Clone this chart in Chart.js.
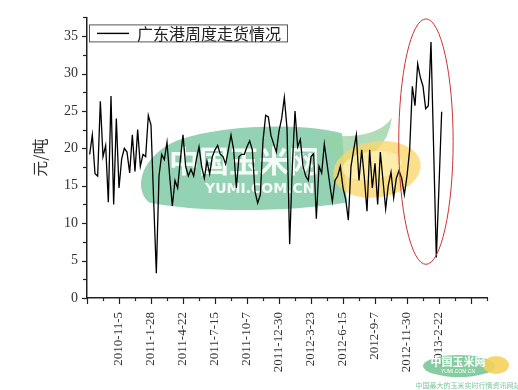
<!DOCTYPE html>
<html>
<head>
<meta charset="utf-8">
<script src="https://cdn.jsdelivr.net/npm/chart.js@4/dist/chart.umd.min.js"></script>
<style>
  html, body { margin: 0; padding: 0; background: #fff; }
  #wrap { width: 518px; height: 390px; }
</style>
</head>
<body>
<div id="wrap"><canvas id="c" width="518" height="390"></canvas></div>
<script>
// 数据：每周一个值，第1周 = 2010-8-20
const seriesName = '广东港周度走货情况';
const yTitle = '元/吨';
const values = [
  19.2, 21.8, 16.6, 16.3, 26.3, 18.9, 20.4, 12.8, 27.0, 12.5,
  24.0, 14.7, 18.6, 20.0, 19.5, 16.7, 21.8, 16.9, 22.5, 17.6,
  19.2, 18.9, 24.4, 23.1, 13.0, 3.3, 16.3, 19.2, 18.5, 20.8,
  16.3, 12.3, 15.7, 14.7, 18.5, 21.8, 17.6, 16.3, 17.2, 16.3,
  18.5, 20.2, 17.6, 16.0, 18.3, 16.6, 18.9, 19.8, 20.4, 19.2,
  18.9, 17.9, 19.8, 21.8, 19.8, 14.7, 18.9, 19.2, 19.2, 20.2,
  21.0, 19.8, 14.2, 12.7, 13.8, 21.0, 24.4, 24.2, 21.7, 20.6,
  19.5, 22.3, 24.0, 26.8, 22.7, 7.2, 17.6, 25.0, 20.2, 21.2,
  17.6, 16.3, 15.7, 18.9, 19.3, 10.6, 17.6, 16.7, 20.6, 18.0,
  15.3, 12.9, 15.7, 16.3, 17.6, 14.7, 13.2, 10.4, 17.6, 19.8,
  21.8, 15.7, 19.8, 16.1, 11.6, 19.8, 14.7, 18.0, 12.5, 19.5,
  15.7, 11.9, 15.1, 16.8, 13.4, 16.0, 17.0, 16.0, 13.8, 16.3,
  19.8, 28.3, 25.7, 31.3, 29.5, 28.3, 25.3, 25.7, 34.2, 19.8,
  5.4, 15.0, 24.9
];
// 横轴刻度标签，每12周一个（第12周起）
const tickLabels = [
  '2010-11-5', '2011-1-28', '2011-4-22', '2011-7-15', '2011-10-7', '2011-12-30',
  '2012-3-23', '2012-6-15', '2012-9-7', '2012-11-30', '2013-2-22'
];
const yTicks = [0, 5, 10, 15, 20, 25, 30, 35];

// 红色椭圆（数据坐标）
const ring = { week: 127.1, halfWeeks: 10.2, mid: 20.9, halfValue: 16.4 };

const points = values.map((v, i) => ({ x: i + 1, y: v }));

const serif = "'Liberation Serif', 'DejaVu Serif', serif";
const cjk = "'Noto Sans CJK SC', 'Noto Sans', sans-serif";

const decor = {
  id: 'decor',
  beforeDatasetsDraw(chart) {
    const ctx = chart.ctx;
    const a = chart.chartArea;
    const ox = a.left, oy = a.top;
    ctx.save();
    // 水印：绿色底块
    ctx.fillStyle = 'rgba(120, 200, 160, 0.8)';
    ctx.beginPath();
    ctx.moveTo(ox + 62, oy + 185);
    ctx.bezierCurveTo(ox + 45, oy + 170, ox + 55, oy + 138, ox + 90, oy + 123);
    ctx.bezierCurveTo(ox + 140, oy + 106, ox + 220, oy + 106, ox + 255, oy + 116);
    ctx.lineTo(ox + 260, oy + 185);
    ctx.bezierCurveTo(ox + 200, oy + 195, ox + 110, oy + 195, ox + 62, oy + 185);
    ctx.closePath();
    ctx.fill();
    // 叶子
    ctx.fillStyle = 'rgba(150, 210, 160, 0.75)';
    ctx.beginPath();
    ctx.moveTo(ox + 235, oy + 118);
    ctx.quadraticCurveTo(ox + 290, oy + 123, ox + 305, oy + 100);
    ctx.quadraticCurveTo(ox + 300, oy + 140, ox + 255, oy + 150);
    ctx.closePath();
    ctx.fill();
    // 玉米
    ctx.fillStyle = 'rgba(250, 215, 110, 0.8)';
    ctx.beginPath();
    ctx.ellipse(ox + 290, oy + 152, 44, 28, -0.15, 0, Math.PI * 2);
    ctx.fill();
    ctx.fillStyle = 'rgba(255, 240, 180, 0.75)';
    ctx.beginPath();
    ctx.ellipse(ox + 285, oy + 148, 30, 14, -0.15, 0, Math.PI * 2);
    ctx.fill();
    // 文字
    ctx.fillStyle = 'rgba(255, 255, 255, 0.9)';
    ctx.font = "bold 30px " + cjk;
    ctx.textBaseline = 'middle';
    ctx.textAlign = 'left';
    ctx.fillText('中国玉米网', ox + 82, oy + 143);
    ctx.font = "bold 14px 'DejaVu Sans', sans-serif";
    ctx.fillText('YUMI.COM.CN', ox + 118, oy + 172);
    ctx.restore();
  },
  afterDraw(chart) {
    const ctx = chart.ctx;
    const a = chart.chartArea;
    const xs = chart.scales.x, ys = chart.scales.y;
    ctx.save();
    ctx.strokeStyle = '#222';
    ctx.lineWidth = 1.2;
    // y 轴刻度
    for (let v = 0; v <= 37.5; v += 2.5) {
      const py = Math.round(ys.getPixelForValue(v)) + 0.5;
      const len = v % 5 === 0 ? 5 : 4;
      ctx.beginPath();
      ctx.moveTo(a.left - len, py);
      ctx.lineTo(a.left, py);
      ctx.stroke();
    }
    // x 轴刻度
    for (let w = 0; w <= 150; w += 6) {
      const px = Math.round(xs.getPixelForValue(w)) + 0.5;
      const len = w % 12 === 0 ? 6 : 3;
      ctx.beginPath();
      ctx.moveTo(px, a.bottom);
      ctx.lineTo(px, a.bottom + len);
      ctx.stroke();
    }
    // 图例
    const lx = a.left + 2, ly = a.top + 7;
    ctx.strokeStyle = '#555';
    ctx.lineWidth = 1;
    ctx.strokeRect(lx + 0.5, ly + 0.5, 198, 17);
    ctx.strokeStyle = '#000';
    ctx.lineWidth = 1.4;
    ctx.beginPath();
    ctx.moveTo(lx + 8, ly + 9);
    ctx.lineTo(lx + 40, ly + 9);
    ctx.stroke();
    ctx.fillStyle = '#222';
    ctx.font = '16px ' + cjk;
    ctx.textBaseline = 'middle';
    ctx.fillText(seriesName, lx + 48, ly + 9.5);
    // 红色椭圆
    const cx = xs.getPixelForValue(ring.week);
    const rx = xs.getPixelForValue(ring.week + ring.halfWeeks) - cx;
    const cy = ys.getPixelForValue(ring.mid);
    const ry = cy - ys.getPixelForValue(ring.mid + ring.halfValue);
    ctx.strokeStyle = '#cc3333';
    ctx.lineWidth = 1;
    ctx.beginPath();
    ctx.ellipse(cx, cy, rx, ry, 0, 0, Math.PI * 2);
    ctx.stroke();
    // 右下角标志
    ctx.fillStyle = 'rgba(120, 200, 150, 0.9)';
    ctx.beginPath();
    ctx.ellipse(459, 366, 36, 11, 0, 0, Math.PI * 2);
    ctx.fill();
    ctx.fillStyle = 'rgba(245, 210, 90, 0.9)';
    ctx.beginPath();
    ctx.ellipse(496, 365, 13, 9, 0, 0, Math.PI * 2);
    ctx.fill();
    ctx.fillStyle = '#fff';
    ctx.font = 'bold 11px ' + cjk;
    ctx.textAlign = 'center';
    ctx.fillText('中国玉米网', 458, 362);
    ctx.font = '5px sans-serif';
    ctx.fillText('YUMI.COM.CN', 458, 372);
    ctx.fillStyle = '#7cc49a';
    ctx.font = '7px ' + cjk;
    ctx.fillText('中国最大的玉米实时行情资讯网站', 468, 385);
    ctx.restore();
  }
};

new Chart(document.getElementById('c'), {
  type: 'line',
  data: {
    datasets: [{
      label: seriesName,
      data: points,
      borderColor: '#000',
      borderWidth: 1.3,
      pointRadius: 0,
      tension: 0,
      fill: false
    }]
  },
  options: {
    responsive: false,
    animation: false,
    devicePixelRatio: 1,
    layout: { padding: { top: 5, right: 31, left: 30, bottom: 0 } },
    plugins: { legend: { display: false }, tooltip: { enabled: false } },
    scales: {
      x: {
        type: 'linear',
        min: 0,
        max: 150,
        afterFit: s => { s.height = 92; },
        border: { display: true, color: '#222', width: 1.5 },
        grid: { display: false, drawTicks: false },
        afterBuildTicks: s => {
          s.ticks = [];
          for (let w = 0; w <= 150; w += 12) s.ticks.push({ value: w });
        },
        ticks: {
          autoSkip: false,
          maxRotation: 90,
          minRotation: 90,
          padding: 14,
          color: '#333',
          font: { family: serif, size: 13 },
          callback: v => {
            const i = v / 12 - 1;
            return (i >= 0 && i < tickLabels.length) ? tickLabels[i] : '';
          }
        }
      },
      y: {
        min: 0,
        max: 37.5,
        afterFit: s => { s.width = 57; },
        border: { display: true, color: '#222', width: 1.5 },
        grid: { display: false, drawTicks: false },
        afterBuildTicks: s => { s.ticks = yTicks.map(v => ({ value: v })); },
        ticks: {
          padding: 9,
          color: '#333',
          font: { family: serif, size: 14 }
        },
        title: {
          display: true,
          text: yTitle,
          color: '#333',
          font: { family: cjk, size: 16 },
          padding: { top: 0, bottom: 0 }
        }
      }
    }
  },
  plugins: [decor]
});
</script>
</body>
</html>
